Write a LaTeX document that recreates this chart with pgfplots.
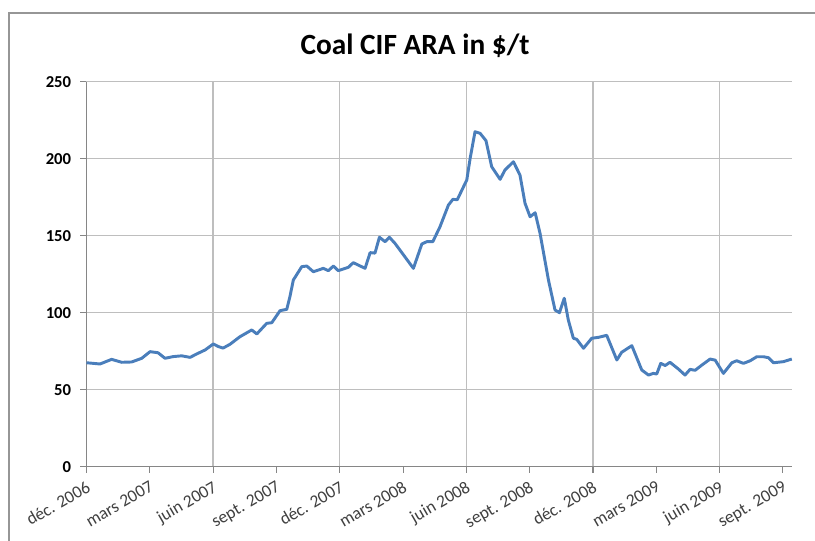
\documentclass[border=0pt]{standalone}
\usepackage{pgfplots}
\pgfplotsset{compat=1.18}
\usepackage{fontspec}
\setmainfont{Carlito}
\definecolor{linecol}{RGB}{74,126,187}
\definecolor{gridcol}{RGB}{190,190,190}
\definecolor{axcol}{RGB}{134,134,134}
\definecolor{framecol}{RGB}{150,150,150}
\definecolor{xlab}{RGB}{64,64,64}
\begin{document}
\begin{tikzpicture}
\useasboundingbox (-64.875pt,-54.975pt) rectangle (546.375pt,350.025pt);
\fill[white] (-64.875pt,-54.975pt) rectangle (546.375pt,350.025pt);
\draw[framecol, line width=1.2pt] (-58.1pt,-60pt) -- (-58.1pt,340.3pt) -- (560pt,340.3pt);
\node[font=\fontsize{22}{26}\selectfont\bfseries] at (246.4pt,315.5pt) {Coal CIF ARA in \$/t};
\begin{axis}[
  at={(0pt,0pt)}, anchor=south west,
  width=529.125pt, height=288.75pt, scale only axis,
  xmin=0, xmax=33.43, ymin=0, ymax=250,
  axis x line*=bottom, axis y line*=left,
  xtick pos=bottom, ytick pos=left,
  axis line style={axcol, line width=1pt},
  ytick={0,50,...,250},
  xtick={0,3,...,33},
  xticklabels={déc. 2006, mars 2007, juin 2007, sept. 2007, déc. 2007, mars 2008, juin 2008, sept. 2008, déc. 2008, mars 2009, juin 2009, sept. 2009},
  ymajorgrids, xmajorgrids=false,
  minor xtick={6,12,18,24,30}, xminorgrids,
  grid style={gridcol, line width=1pt},
  minor tick length=0pt,
  tick align=outside, major tick length=4.5pt,
  tick style={axcol, line width=0.8pt},
  /pgf/number format/assume math mode=true,
  yticklabel style={font=\fontsize{12.5}{14}\selectfont\bfseries, black, xshift=-3.5pt},
  xticklabel style={font=\fontsize{13.1}{15}\selectfont, rotate=30, anchor=north east, text=xlab, yshift=-1pt},
]
\addplot[linecol, line width=2.2pt, line join=round] coordinates {
(0,67.5) (0.64,66.7) (1.19,69.7) (1.67,67.8) (2.14,68) (2.62,70.4) (3.01,74.7) (3.39,74)
(3.72,70.4) (4.11,71.5) (4.51,72) (4.91,71) (5.22,73.2) (5.62,75.8) (6.01,79.7) (6.25,78)
(6.47,77) (6.8,79.5) (7.27,84.4) (7.83,88.8) (8.07,86.2) (8.54,93.1) (8.78,93.5) (9.17,101.3)
(9.49,102.2) (9.64,110.4) (9.80,121.2) (10.2,129.9) (10.44,130.3) (10.75,126.6) (11.22,128.8)
(11.46,127.3) (11.70,130.3) (11.93,127.3) (12.41,129.5) (12.64,132.5) (13.2,128.8) (13.44,139)
(13.67,138.7) (13.88,149) (14.15,146.1) (14.35,149) (14.62,145) (15.49,128.8) (15.89,144.6)
(16.12,146.1) (16.41,146.1) (16.75,155.8) (17.15,169.9) (17.36,173.6) (17.57,173.4) (18.02,186.2)
(18.18,200.3) (18.41,217.5) (18.65,216.5) (18.93,211.7) (19.2,194.8) (19.6,186.6) (19.83,192.7)
(20.23,198) (20.54,189.4) (20.78,171) (21.02,162.3) (21.26,164.9) (21.49,151.6) (21.89,121.2)
(22.2,101.8) (22.41,100) (22.64,109.4) (22.83,95.3) (23.07,83.4) (23.23,82.7) (23.55,76.9)
(23.94,83.4) (24.26,84) (24.65,85.3) (25.13,69.3) (25.36,74.3) (25.84,78.6) (26.31,62.8)
(26.63,59.5) (26.86,60.6) (27.02,60.2) (27.21,67.1) (27.42,65.7) (27.65,67.8) (28.05,63.4)
(28.36,59.5) (28.6,63.2) (28.84,62.6) (29.16,66) (29.55,69.9) (29.79,69.2) (30.18,60.6)
(30.58,67.5) (30.81,68.8) (31.13,67.1) (31.45,68.8) (31.76,71.4) (32.08,71.4) (32.31,70.8)
(32.55,67.5) (33.02,68.2) (33.42,69.9)
};
\end{axis}
\end{tikzpicture}
\end{document}
